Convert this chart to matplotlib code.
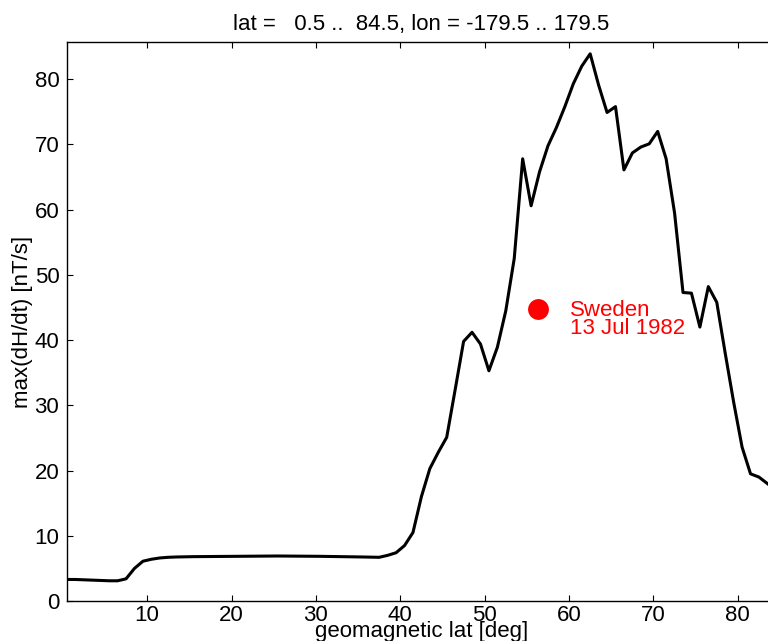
import matplotlib.pyplot as plt
import numpy as np

# data
geomag_lat = [0.5, 1.5, 2.5, 3.5, 4.5, 5.5, 6.5, 7.5, 8.5, 9.5,
              10.5, 11.5, 12.5, 13.5, 15.5, 20.5, 25.5, 30.5, 35.5, 37.5,
              38.5, 39.5, 40.5, 41.5, 42.5, 43.5, 44.5, 45.5, 46.5, 47.5,
              48.5, 49.5, 50.5, 51.5, 52.5, 53.5, 54.5, 55.5, 56.5, 57.5,
              58.5, 59.5, 60.5, 61.5, 62.5, 63.5, 64.5, 65.5, 66.5, 67.5,
              68.5, 69.5, 70.5, 71.5, 72.5, 73.5, 74.5, 75.5, 76.5, 77.5,
              78.5, 79.5, 80.5, 81.5, 82.5, 83.5, 84.5]
max_dhdt = [3.3, 3.3, 3.25, 3.2, 3.15, 3.1, 3.1, 3.4, 5.0, 6.1,
            6.4, 6.6, 6.7, 6.75, 6.8, 6.85, 6.9, 6.85, 6.75, 6.7,
            7.0, 7.4, 8.5, 10.5, 16.0, 20.3, 22.8, 25.1, 32.4, 39.8,
            41.2, 39.4, 35.3, 38.9, 44.5, 52.5, 67.8, 60.6, 65.8, 69.8,
            72.6, 75.8, 79.3, 82.0, 83.9, 79.1, 74.9, 75.8, 66.1, 68.7,
            69.6, 70.1, 72.0, 67.8, 59.5, 47.3, 47.2, 42.0, 48.2, 45.8,
            38.0, 30.5, 23.6, 19.5, 19.0, 18.0, 17.0]

event_lat = 56.3
event_val = 44.8
event_lines = ["Sweden", "13 Jul 1982"]

xticks = [10, 20, 30, 40, 50, 60, 70, 80]
yticks = [0, 10, 20, 30, 40, 50, 60, 70, 80]

plt.rcParams['font.family'] = ['Liberation Sans', 'DejaVu Sans']

fig = plt.figure(figsize=(7.68, 6.41), dpi=100)
ax = fig.add_axes([0.0872, 0.0624, 0.923, 0.872])

ax.plot(geomag_lat, max_dhdt, color='black', linewidth=2.2)
ax.plot([event_lat], [event_val], 'o', color='#ff0000', markersize=15,
        markeredgewidth=0)
ax.text(60.1, 43.7, event_lines[0], color='#ff0000', fontsize=16, va='baseline')
ax.text(60.1, 40.9, event_lines[1], color='#ff0000', fontsize=16, va='baseline')

ax.set_xlim(0.5, 84.5)
ax.set_ylim(0, 85.7)
ax.set_xticks(xticks)
ax.set_yticks(yticks)
ax.tick_params(direction='in', length=4.3, width=0.8, labelsize=16,
               top=True, right=True)
ax.tick_params(axis='x', pad=3)
ax.tick_params(axis='y', pad=5.5)
for s in ax.spines.values():
    s.set_linewidth(1.0)

ax.set_xlabel('geomagnetic lat [deg]', fontsize=16, labelpad=-4)
ax.set_ylabel('max(dH/dt) [nT/s]', fontsize=16, labelpad=1)
ax.set_title('lat =   0.5 ..  84.5, lon = -179.5 .. 179.5', fontsize=16, pad=9)

fig.savefig('out.png', dpi=100)
